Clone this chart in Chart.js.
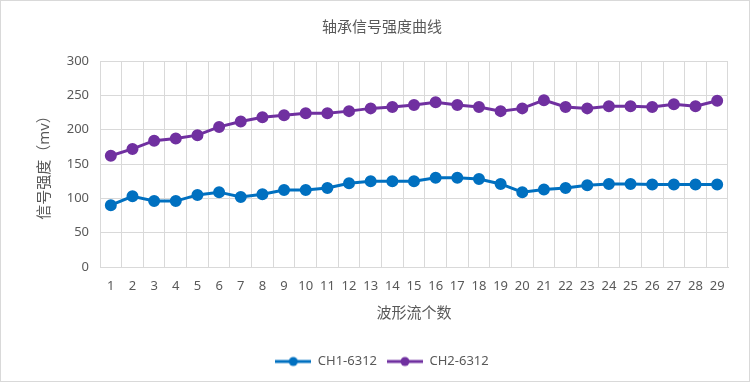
<!DOCTYPE html>
<html>
<head>
<meta charset="utf-8">
<script src="https://cdn.jsdelivr.net/npm/chart.js@4"></script>
<style>
  body { margin: 0; background: #fff; }
  #wrap { width: 748px; height: 380px; border: 1px solid #d9d9d9; }
</style>
</head>
<body>
<div id="wrap"><canvas id="chart" width="748" height="380"></canvas></div>
<script>
// ----------------------------
// 数据
// ----------------------------
const categories = ["1","2","3","4","5","6","7","8","9","10","11","12","13","14","15",
                    "16","17","18","19","20","21","22","23","24","25","26","27","28","29"];
const ch1 = [90, 103, 96, 96, 105, 109, 102, 106, 112, 112, 115, 122, 125, 125, 125,
             130, 130, 128, 121, 109, 113, 115, 119, 121, 121, 120, 120, 120, 120];
const ch2 = [162, 172, 184, 187, 192, 204, 212, 218, 221, 224, 224, 227, 231, 233, 236,
             240, 236, 233, 227, 231, 243, 233, 231, 234, 234, 233, 237, 234, 242];
const seriesNames = ["CH1-6312", "CH2-6312"];
const colors = ["#0070C0", "#7030A0"];

const fontFamily = "'Noto Sans', 'Noto Sans CJK SC', sans-serif";
const textColor = "#595959";
const gridColor = "#d9d9d9";

// 图例里的“线+圆点”小图标
function legendIcon(color) {
    const c = document.createElement("canvas");
    c.width = 36;
    c.height = 12;
    const g = c.getContext("2d");
    g.strokeStyle = color;
    g.lineWidth = 3;
    g.beginPath();
    g.moveTo(0, 6);
    g.lineTo(36, 6);
    g.stroke();
    g.fillStyle = color;
    g.beginPath();
    g.arc(18, 6, 4.5, 0, Math.PI * 2);
    g.fill();
    return c;
}

const ctx = document.getElementById("chart").getContext("2d");

new Chart(ctx, {
    type: "line",
    data: {
        labels: categories,
        datasets: [ch1, ch2].map((values, i) => ({
            label: seriesNames[i],
            data: values,
            borderColor: colors[i],
            backgroundColor: colors[i],
            borderWidth: 3,
            pointRadius: 4.5,
            pointHoverRadius: 4.5,
            tension: 0
        }))
    },
    options: {
        responsive: false,
        animation: false,
        layout: { padding: { left: 35, right: 21, top: 0, bottom: 3 } },
        plugins: {
            title: {
                display: true,
                text: "轴承信号强度曲线",
                color: textColor,
                font: { family: fontFamily, size: 15, weight: "normal" },
                padding: { top: 18, bottom: 24 }
            },
            legend: {
                position: "bottom",
                labels: {
                    color: textColor,
                    font: { family: fontFamily, size: 13 },
                    usePointStyle: true,
                    pointStyleWidth: 36,
                    padding: 10,
                    generateLabels: chart => chart.data.datasets.map((ds, i) => ({
                        text: ds.label,
                        fontColor: textColor,
                        pointStyle: legendIcon(colors[i]),
                        datasetIndex: i,
                        lineWidth: 0
                    }))
                }
            },
            tooltip: { enabled: false }
        },
        scales: {
            x: {
                offset: true,
                grid: { color: gridColor, offset: true, drawTicks: false },
                border: { color: gridColor },
                ticks: {
                    color: textColor,
                    font: { family: fontFamily, size: 13 },
                    padding: 11,
                    maxRotation: 0,
                    autoSkip: false
                },
                title: {
                    display: true,
                    text: "波形流个数",
                    color: textColor,
                    font: { family: fontFamily, size: 15 },
                    padding: { top: 4, bottom: 22 }
                },
                afterFit: scale => { scale.height = 78; }
            },
            y: {
                min: 0,
                max: 300,
                grid: { color: gridColor, drawTicks: false },
                border: { display: false },
                ticks: {
                    stepSize: 50,
                    color: textColor,
                    font: { family: fontFamily, size: 13 },
                    padding: 11
                },
                title: {
                    display: true,
                    text: "信号强度（mv）",
                    color: textColor,
                    font: { family: fontFamily, size: 15 },
                    padding: { top: 0, bottom: 0 }
                },
                afterFit: scale => { scale.width = 64; }
            }
        }
    }
});
</script>
</body>
</html>
